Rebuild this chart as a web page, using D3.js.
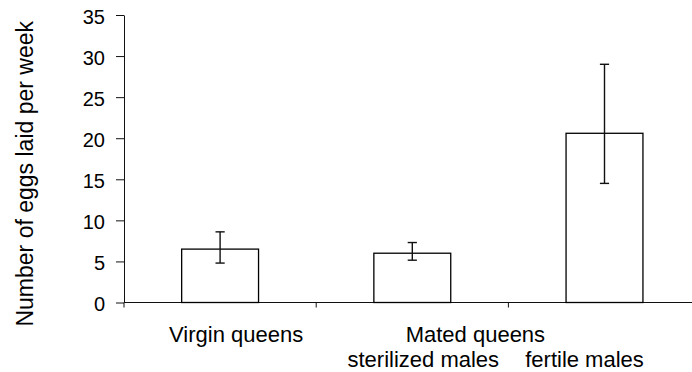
<!DOCTYPE html>
<html>
<head>
<meta charset="utf-8">
<script src="https://cdn.jsdelivr.net/npm/d3@7"></script>
<style>
  html, body { margin: 0; padding: 0; background: #fff; }
  svg { display: block; font-family: "Liberation Sans", Arial, sans-serif; }
</style>
</head>
<body>
<svg id="chart" width="692" height="372"></svg>
<script>
// Egg-laying rate by queen group (mean with error range)
const groups = ["Virgin queens", "Mated (sterilized males)", "Mated (fertile males)"];
const meanEggs = [6.5, 6.0, 20.6];
const errLow = [4.8, 5.15, 14.5];
const errHigh = [8.6, 7.3, 29.0];
const yTicks = [0, 5, 10, 15, 20, 25, 30, 35];
const yTitle = "Number of eggs laid per week";

const svg = d3.select("#chart");

const x = d3.scaleBand()
  .domain(groups)
  .range([124, 700.6])
  .paddingInner(0.6)
  .paddingOuter(0.3);

const y = d3.scaleLinear()
  .domain([0, 35])
  .range([302.5, 15]);

const ink = "#111";

// Y axis
const yAxis = svg.append("g")
  .attr("transform", `translate(${x.range()[0]},0)`)
  .call(d3.axisLeft(y).tickValues(yTicks).tickSize(8).tickPadding(11).tickSizeOuter(0));
yAxis.select(".domain").attr("stroke", ink);
yAxis.selectAll(".tick line").attr("stroke", ink);
yAxis.selectAll(".tick text")
  .attr("font-size", 20)
  .attr("fill", "#000")
  .attr("font-family", "'Liberation Sans', Arial, sans-serif")
  .attr("dy", "0.42em");

// X axis: baseline with ticks at the band boundaries
const step = x.step();
const bounds = d3.range(groups.length + 1).map(i => x.range()[0] + i * step);
svg.append("line")
  .attr("x1", x.range()[0]).attr("x2", x.range()[1])
  .attr("y1", y(0)).attr("y2", y(0))
  .attr("stroke", ink).attr("stroke-width", 1);
svg.selectAll(".xtick")
  .data(bounds)
  .join("line")
  .attr("class", "xtick")
  .attr("x1", d => d).attr("x2", d => d)
  .attr("y1", y(0)).attr("y2", y(0) + 5)
  .attr("stroke", ink);

// Bars
svg.selectAll(".bar")
  .data(groups)
  .join("rect")
  .attr("class", "bar")
  .attr("x", d => x(d))
  .attr("width", x.bandwidth())
  .attr("y", (d, i) => y(meanEggs[i]))
  .attr("height", (d, i) => y(0) - y(meanEggs[i]))
  .attr("fill", "#fff")
  .attr("stroke", "#000")
  .attr("stroke-width", 1.3);

// Error bars
const cap = 4.6;
const eb = svg.selectAll(".err")
  .data(groups)
  .join("g")
  .attr("class", "err")
  .attr("stroke", "#111")
  .attr("stroke-width", 1.4);
eb.append("line")
  .attr("x1", d => x(d) + x.bandwidth() / 2)
  .attr("x2", d => x(d) + x.bandwidth() / 2)
  .attr("y1", (d, i) => y(errLow[i]))
  .attr("y2", (d, i) => y(errHigh[i]));
eb.append("line")
  .attr("x1", d => x(d) + x.bandwidth() / 2 - cap)
  .attr("x2", d => x(d) + x.bandwidth() / 2 + cap)
  .attr("y1", (d, i) => y(errHigh[i]))
  .attr("y2", (d, i) => y(errHigh[i]));
eb.append("line")
  .attr("x1", d => x(d) + x.bandwidth() / 2 - cap)
  .attr("x2", d => x(d) + x.bandwidth() / 2 + cap)
  .attr("y1", (d, i) => y(errLow[i]))
  .attr("y2", (d, i) => y(errLow[i]));

// Category labels (mated queens share a heading, with sub-labels beneath)
const cx = d => x(d) + x.bandwidth() / 2;
const labelRow1 = y(0) + 39;
const labelRow2 = y(0) + 64.5;
const catText = (tx, ty, s) => svg.append("text")
  .attr("x", tx).attr("y", ty)
  .attr("text-anchor", "middle")
  .attr("font-size", 22)
  .attr("fill", "#000")
  .text(s);
catText(cx(groups[0]) + 16, labelRow1, "Virgin queens");
catText((cx(groups[1]) + cx(groups[2])) / 2 - 33, labelRow1, "Mated queens");
catText(cx(groups[1]) + 11, labelRow2, "sterilized males");
catText(cx(groups[2]) - 20, labelRow2, "fertile males");

// Y title
svg.append("text")
  .attr("transform", `translate(32.5,${(y(35) + y(0)) / 2 + 15}) rotate(-90)`)
  .attr("text-anchor", "middle")
  .attr("font-size", 23)
  .attr("fill", "#000")
  .text(yTitle);
</script>
</body>
</html>
